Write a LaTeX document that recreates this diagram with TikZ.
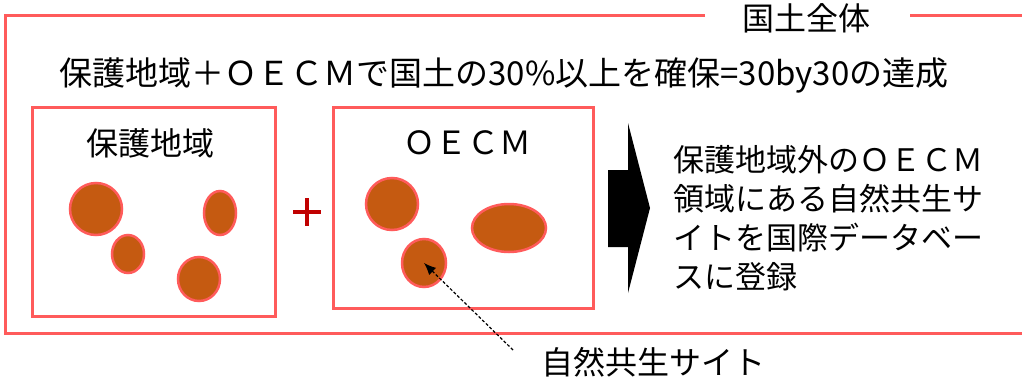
\documentclass[tikz,border=0pt]{standalone}
\usepackage{fontspec}
\setmainfont{Noto Sans CJK JP}
\usetikzlibrary{shapes.geometric,arrows.meta}
\definecolor{lred}{HTML}{FF5B5B}
\definecolor{site}{HTML}{C55A11}
\definecolor{dred}{HTML}{C00000}
\tikzset{
  redline/.style={draw=lred, line width=3pt},
  areabox/.style={draw=lred, line width=3pt, inner sep=0pt},
  sitenode/.style={ellipse, draw=lred, fill=site, line width=2.5pt, inner sep=0pt},
  txt/.style={inner sep=0pt, font=\fontsize{32}{38}\selectfont},
}
\begin{document}
\begin{tikzpicture}[x=1pt,y=-1pt]
\useasboundingbox (0,0) rectangle (1022,380);
% outer frame
\draw[redline] (705,15) -- (5,15) -- (5,333) -- (1022,333);
\draw[redline] (910,15) -- (1022,15);
\node[txt] (whole) at (806,18) {国土全体};
\node[txt, font=\fontsize{33}{38}\selectfont] (title) at (504,75) {保護地域＋ＯＥＣＭで国土の30\%以上を確保=30by30の達成};
% boxes
\draw[areabox] (32,107) rectangle (275,316);
\draw[areabox] (333,107) rectangle (593,308);
\node[txt] (pa) at (150,143) {保護地域};
\node[txt] (oecm) at (467,143) {ＯＥＣＭ};
% sites in protected area box
\node[sitenode, minimum width=52, minimum height=52] (a1) at (96,209) {};
\node[sitenode, minimum width=32, minimum height=38] (a2) at (128,254) {};
\node[sitenode, minimum width=32, minimum height=44] (a3) at (220,213) {};
\node[sitenode, minimum width=42, minimum height=44] (a4) at (199,279) {};
% sites in OECM box
\node[sitenode, minimum width=52, minimum height=52] (o1) at (392,204) {};
\node[sitenode, minimum width=74, minimum height=48] (o2) at (509,228) {};
\node[sitenode, minimum width=44, minimum height=48] (o3) at (424,263) {};
% plus
\draw[dred, line width=3.5pt] (293,212) -- (321,212) (307,198) -- (307,226);
% big arrow
\fill[black] (608,170) -- (628,170) -- (628,123) -- (650,208) -- (628,293) -- (628,247) -- (608,247) -- cycle;
% right text
\node[txt, font=\fontsize{31}{38}\selectfont, anchor=west] (r1) at (673,160) {保護地域外のＯＥＣＭ};
\node[txt, font=\fontsize{31}{38}\selectfont, anchor=west] (r2) at (673,199) {領域にある自然共生サ};
\node[txt, font=\fontsize{31}{38}\selectfont, anchor=west] (r3) at (673,238) {イトを国際データベー};
\node[txt, font=\fontsize{31}{38}\selectfont, anchor=west] (r4) at (673,277) {スに登録};
% label and arrow
\node[txt] (lbl) at (653,362) {自然共生サイト};
\coordinate (astart) at (513,350);
\draw[line width=1.2pt, dash pattern=on 3pt off 2pt, -{Latex[length=12pt,width=10pt]}] (astart) -- (o3.center);
\end{tikzpicture}
\end{document}
